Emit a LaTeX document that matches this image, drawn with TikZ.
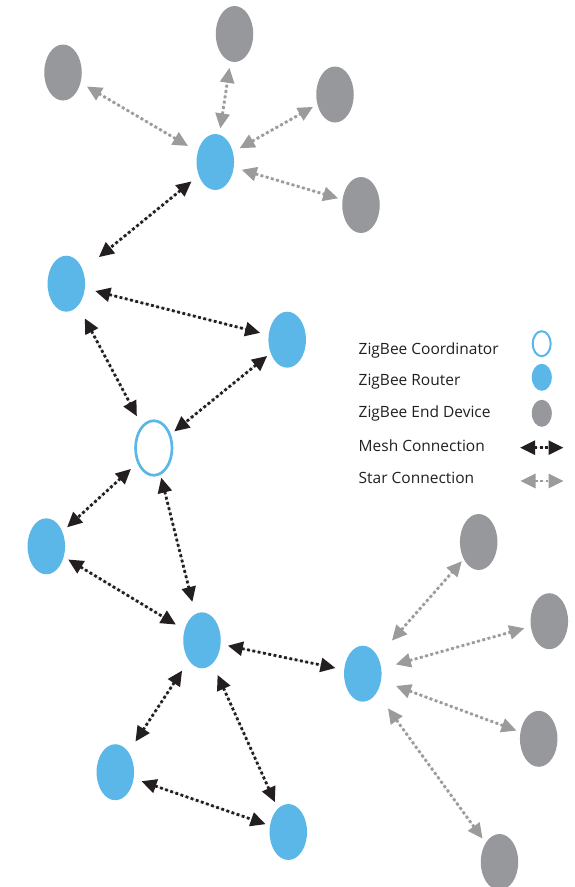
\documentclass[tikz,border=0pt]{standalone}
\usepackage{fontspec}
\setmainfont{Open Sans}
\usetikzlibrary{arrows.meta,shapes.geometric}
\definecolor{zblue}{HTML}{5AB7E7}
\definecolor{zgray}{HTML}{97989B}
\definecolor{zdark}{HTML}{231F20}
\definecolor{zstar}{HTML}{9B9B9B}
\tikzset{
  dev/.style={ellipse, inner sep=0pt, minimum width=37.5pt, minimum height=56pt},
  router/.style={dev, fill=zblue},
  enddev/.style={dev, fill=zgray},
  coord/.style={ellipse, inner sep=0pt, minimum width=36.5pt, minimum height=54.5pt, draw=zblue, line width=2.7pt, fill=white},
  link/.style={line width=2.8pt, dash pattern=on 2.8pt off 2.6pt,
    {Triangle[length=15pt,width=14pt]}-{Triangle[length=15pt,width=14pt]}},
  mesh/.style={link, draw=zdark, fill=zdark},
  star/.style={link, draw=zstar, fill=zstar},
  gap/.style 2 args={shorten <=#1pt, shorten >=#2pt},
  lbl/.style={anchor=west, inner sep=0pt, text=zdark, font=\fontsize{15.5}{18}\selectfont},
  licon/.style={ellipse, inner sep=0pt, minimum width=20pt, minimum height=27pt}
}
\begin{document}
\begin{tikzpicture}[x=1pt,y=-1pt]
\path[use as bounding box, fill=white] (0,0) rectangle (575,887);
% end devices
\node[enddev] (E1) at (63,72.5) {};
\node[enddev] (E2) at (234.5,34) {};
\node[enddev] (E3) at (335,94.5) {};
\node[enddev] (E4) at (361,205) {};
\node[enddev] (E5) at (478.7,542) {};
\node[enddev] (E6) at (549.3,621.2) {};
\node[enddev] (E7) at (538.7,738.8) {};
\node[enddev] (E8) at (499.5,862) {};
% routers
\node[router] (R1) at (215.3,162) {};
\node[router] (R2) at (66.3,283.7) {};
\node[router] (R3) at (287.2,339.7) {};
\node[coord]  (C)  at (153.8,448) {};
\node[router] (R4) at (46.3,546.3) {};
\node[router] (R5) at (202,640.3) {};
\node[router] (R6) at (362.8,673.7) {};
\node[router] (R7) at (115.3,772.2) {};
\node[router] (R8) at (288.3,832) {};
% star connections
\draw[star, gap={31.7}{27.7}] (R1.center) -- (E1.center);
\draw[star, gap={34}{34.2}] (R1.center) -- (E2.center);
\draw[star, gap={27.9}{25.3}] (R1.center) -- (E3.center);
\draw[star, gap={27.5}{23.8}] (R1.center) -- (E4.center);
\draw[star, gap={44.1}{25.6}] (R6.center) -- (E5.center);
\draw[star, gap={34.3}{26}] (R6.center) -- (E6.center);
\draw[star, gap={35.4}{23.7}] (R6.center) -- (E7.center);
\draw[star, gap={42.8}{28.9}] (R6.center) -- (E8.center);
% mesh connections
\draw[mesh, gap={30.7}{42}] (R1.center) -- (R2.center);
\draw[mesh, gap={29.9}{27.9}] (R2.center) -- (R3.center);
\draw[mesh, gap={39.3}{36}] (R2.center) -- (C.center);
\draw[mesh, gap={25.8}{26.4}] (R3.center) -- (C.center);
\draw[mesh, gap={31}{28.2}] (C.center) -- (R4.center);
\draw[mesh, gap={30.6}{39.6}] (C.center) -- (R5.center);
\draw[mesh, gap={25.6}{30.5}] (R4.center) -- (R5.center);
\draw[mesh, gap={26.4}{27.9}] (R5.center) -- (R6.center);
\draw[mesh, gap={36.2}{36.7}] (R5.center) -- (R7.center);
\draw[mesh, gap={38}{32.8}] (R5.center) -- (R8.center);
\draw[mesh, gap={27.7}{24}] (R7.center) -- (R8.center);
% legend
\node[lbl] (L1) at (358.5,350) {ZigBee Coordinator};
\node[lbl] (L2) at (358.5,381.7) {ZigBee Router};
\node[lbl] (L3) at (358.5,413.3) {ZigBee End Device};
\node[lbl] (L4) at (358.5,446) {Mesh Connection};
\node[lbl] (L5) at (358.5,477.5) {Star Connection};
\node[licon, draw=zblue, line width=2pt, minimum width=18pt, minimum height=25pt] (I1) at (541.7,343.7) {};
\node[licon, fill=zblue] (I2) at (541.8,377.3) {};
\node[licon, fill=zgray] (I3) at (541.8,413.3) {};
\coordinate (M1) at (520,447.7);
\coordinate (M2) at (563.5,447.7);
\coordinate (S1) at (520.5,481);
\coordinate (S2) at (563.5,481);
\draw[mesh] (M1) -- (M2);
\draw[star] (S1) -- (S2);
\end{tikzpicture}
\end{document}
